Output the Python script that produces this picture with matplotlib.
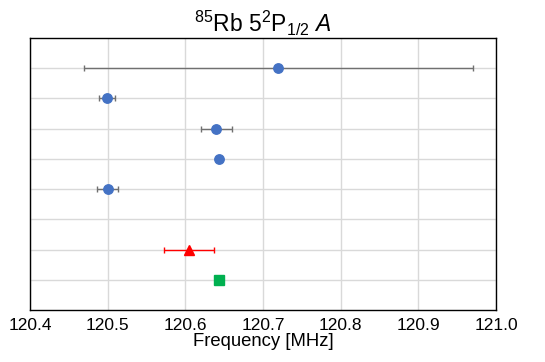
import numpy as np
import matplotlib.pyplot as plt

plt.rcParams['font.family'] = ['Liberation Sans', 'DejaVu Sans']
plt.rcParams['mathtext.fontset'] = 'custom'
plt.rcParams['mathtext.rm'] = 'Liberation Sans'
plt.rcParams['mathtext.it'] = 'Liberation Sans:italic'

# measurements (row index from bottom, value, uncertainty)
blue_rows = [8, 7, 6, 5, 4]
blue_vals = [120.720, 120.499, 120.640, 120.644, 120.500]
blue_errs = [0.250, 0.010, 0.020, 0.001, 0.0135]

red_rows = [2]
red_vals = [120.605]
red_errs = [0.032]

green_rows = [1]
green_vals = [120.643]
green_errs = [0.002]

xticks = [120.4, 120.5, 120.6, 120.7, 120.8, 120.9, 121.0]

fig = plt.figure(figsize=(5.45, 3.62), dpi=100)
ax = fig.add_axes([0.055, 0.1436, 0.855, 0.7514])

ax.errorbar(blue_vals, blue_rows, xerr=blue_errs, fmt='o', color='#4472C4',
            ecolor='#707070', elinewidth=1, capsize=2, capthick=1, markersize=6.8, zorder=3)
ax.errorbar(red_vals, red_rows, xerr=red_errs, fmt='^', color='#FF0000',
            ecolor='#FF0000', elinewidth=1, capsize=2, capthick=1, markersize=7.5, zorder=3)
ax.errorbar(green_vals, green_rows, xerr=green_errs, fmt='s', color='#00B050',
            ecolor='#404040', elinewidth=1, capsize=1, markersize=7, zorder=3)

ax.set_xlim(120.4, 121.0)
ax.set_ylim(0, 9)
ax.set_xticks(xticks)
ax.set_xticklabels([f'{t:.1f}' for t in xticks])
ax.set_yticks(range(1, 9))
ax.set_yticklabels([])
ax.tick_params(length=0, labelsize=12.5, pad=6)
ax.grid(True, color='#d9d9d9', linewidth=1)
ax.set_axisbelow(True)
for s in ax.spines.values():
    s.set_color('black')
    s.set_linewidth(1)

ax.set_xlabel('Frequency [MHz]', fontsize=13.3, labelpad=0)
ax.set_title(r'$^{85}$Rb 5$^{2}$P$_{1/2}$ $\mathit{A}$', fontsize=16.5, pad=4)

fig.savefig('out.png', dpi=100)
